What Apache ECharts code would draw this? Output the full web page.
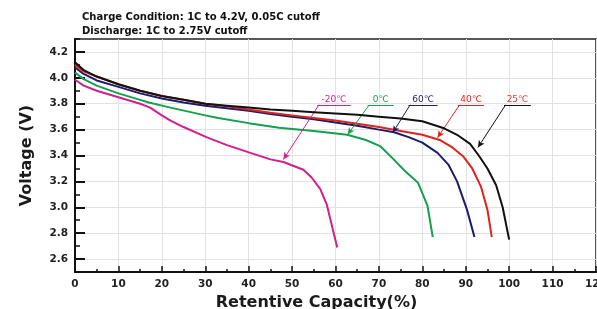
<!DOCTYPE html>
<html>
<head>
<meta charset="utf-8">
<script src="https://cdn.jsdelivr.net/npm/echarts@6/dist/echarts.min.js"></script>
<style>
  html, body { margin: 0; padding: 0; background: #fff; }
  #chart { width: 597px; height: 309px; }
</style>
</head>
<body>
<div id="chart"></div>
<script>
// discharge curves, capacity (%) vs voltage (V)
const capBlack = [0, 2, 5, 10, 15, 20, 25, 30, 35, 40, 45, 50, 55, 60, 65, 70, 75, 80, 85, 88, 91, 93, 95, 97, 98.5, 100];
const volBlack = [4.12, 4.06, 4.01, 3.95, 3.90, 3.86, 3.83, 3.80, 3.785, 3.77, 3.755, 3.745, 3.735, 3.725, 3.715, 3.70, 3.685, 3.665, 3.61, 3.56, 3.49, 3.40, 3.30, 3.17, 3.00, 2.75];

const capRed = [0, 2, 5, 10, 15, 20, 25, 30, 35, 40, 45, 50, 55, 60, 65, 70, 75, 80, 84, 87, 89.5, 91.5, 93.5, 95, 96];
const volRed = [4.10, 4.05, 4.01, 3.95, 3.90, 3.86, 3.83, 3.80, 3.78, 3.755, 3.73, 3.71, 3.69, 3.67, 3.645, 3.62, 3.59, 3.56, 3.52, 3.46, 3.39, 3.30, 3.16, 2.98, 2.77];

const capNavy = [0, 2, 5, 10, 15, 20, 25, 30, 35, 40, 45, 50, 55, 60, 65, 70, 73.5, 77, 80, 83.5, 86, 88, 90.3, 92];
const volNavy = [4.08, 4.03, 3.98, 3.93, 3.88, 3.84, 3.81, 3.785, 3.765, 3.745, 3.72, 3.70, 3.68, 3.655, 3.63, 3.60, 3.58, 3.54, 3.50, 3.42, 3.33, 3.20, 2.98, 2.77];

const capGreen = [0, 2, 5, 10, 15, 17, 22, 30, 33, 40, 47, 55, 62.7, 67, 70.4, 73.4, 76, 79, 81.2, 82.4];
const volGreen = [4.04, 3.99, 3.94, 3.88, 3.83, 3.81, 3.77, 3.71, 3.69, 3.65, 3.615, 3.59, 3.56, 3.52, 3.47, 3.37, 3.28, 3.19, 3.01, 2.77];

const capPink = [0, 2, 5, 10, 15, 17.3, 20, 22, 25, 30.4, 35, 40.4, 45, 48, 52.6, 54.5, 56.5, 58, 58.8, 60.4];
const volPink = [3.985, 3.94, 3.90, 3.85, 3.80, 3.77, 3.71, 3.67, 3.62, 3.54, 3.48, 3.42, 3.37, 3.35, 3.29, 3.23, 3.14, 3.02, 2.91, 2.69];

const tempLabels = ['25℃', '40℃', '60℃', '0℃', '-20℃'];
// annotation: underline [x1, x2, y] and leader arrow tip [x, y], in data units
const noteLines = [[98.8, 105, 3.792], [88.2, 94.2, 3.792], [76.8, 83.5, 3.792], [67.4, 73.4, 3.792], [55.8, 63.5, 3.792]];
const noteTips = [[92.8, 3.462], [83.5, 3.538], [73.2, 3.577], [62.8, 3.562], [48, 3.369]];

const yTicks = [2.6, 2.8, 3.0, 3.2, 3.4, 3.6, 3.8, 4.0, 4.2];

const lineColors = ['#111111', '#e0231c', '#1c1c6b', '#16a04c', '#d21f8c'];
const textColors = ['#d23a30', '#e0231c', '#1c1c6b', '#16a04c', '#d21f8c'];

const curves = [[capBlack, volBlack], [capRed, volRed], [capNavy, volNavy], [capGreen, volGreen], [capPink, volPink]];

const font = 'DejaVu Sans';
const chart = echarts.init(document.getElementById('chart'));

const series = curves.map((c, i) => {
  const n = noteLines[i];
  const t = noteTips[i];
  return {
    type: 'line',
    name: tempLabels[i],
    data: c[0].map((x, k) => [x, c[1][k]]),
    showSymbol: false,
    lineStyle: { color: lineColors[i], width: 2 },
    itemStyle: { color: lineColors[i] },
    z: 5 - i,
    markLine: {
      silent: true,
      animation: false,
      lineStyle: { color: lineColors[i], width: 1, type: 'solid' },
      data: [
        [
          { coord: [n[0], n[2]], symbol: 'none', label: {
            show: true, formatter: tempLabels[i], position: 'insideMiddleTop', distance: 1,
            color: textColors[i], fontSize: 9, fontFamily: font } },
          { coord: [n[1], n[2]], symbol: 'none' }
        ],
        [
          { coord: [n[0] + 0.4, n[2]], symbol: 'none', label: { show: false } },
          { coord: t, symbol: 'arrow', symbolSize: [5, 7] }
        ]
      ]
    }
  };
});

chart.setOption({
  animation: false,
  title: {
    text: 'Charge Condition: 1C to 4.2V, 0.05C cutoff\nDischarge: 1C to 2.75V cutoff',
    left: 77, top: 5,
    textStyle: { fontSize: 10, fontWeight: 'bold', color: '#111', lineHeight: 14, fontFamily: font }
  },
  grid: { left: 75, right: 1, top: 39, bottom: 37, show: true, borderColor: '#222', borderWidth: 1.5, outerBoundsMode: 'none' },
  xAxis: {
    type: 'value', min: 0, max: 120, interval: 10,
    name: 'Retentive Capacity(%)', nameLocation: 'middle', nameGap: 18,
    nameTextStyle: { fontSize: 16, fontWeight: 'bold', color: '#1a1a1a', fontFamily: font, padding: [0, 38, 0, 0] },
    axisLine: { lineStyle: { color: '#111', width: 2 } },
    axisTick: { inside: true, length: 6, lineStyle: { color: '#111', width: 1.5 } },
    minorTick: { show: true, splitNumber: 2, length: 3, lineStyle: { color: '#111', width: 1.5 } },
    axisLabel: { fontSize: 10.5, fontWeight: 'bold', color: '#222', margin: 7, fontFamily: font },
    splitLine: { show: true, lineStyle: { color: '#e2e2e2', width: 1 } }
  },
  yAxis: [
    {
      type: 'value', min: 2.5, max: 4.3, interval: 0.1,
      axisLine: { show: true, lineStyle: { color: '#111', width: 2 } },
      axisTick: { inside: true, length: 5, lineStyle: { color: '#111', width: 1.5 } },
      axisLabel: { show: false },
      splitLine: { show: false }
    },
    {
      type: 'value', min: 2.5, max: 4.3, position: 'left',
      name: 'Voltage (V)', nameLocation: 'middle', nameGap: 40,
      nameTextStyle: { fontSize: 16, fontWeight: 'bold', color: '#1a1a1a', fontFamily: font },
      axisLine: { show: false },
      axisTick: { inside: true, length: 10, customValues: yTicks, lineStyle: { color: '#111', width: 2 } },
      axisLabel: { customValues: yTicks, formatter: v => v.toFixed(1), fontSize: 10.5, fontWeight: 'bold', color: '#222', margin: 7, fontFamily: font },
      splitLine: { show: true, lineStyle: { color: '#e2e2e2', width: 1 } }
    }
  ],
  series: series
});
</script>
</body>
</html>
